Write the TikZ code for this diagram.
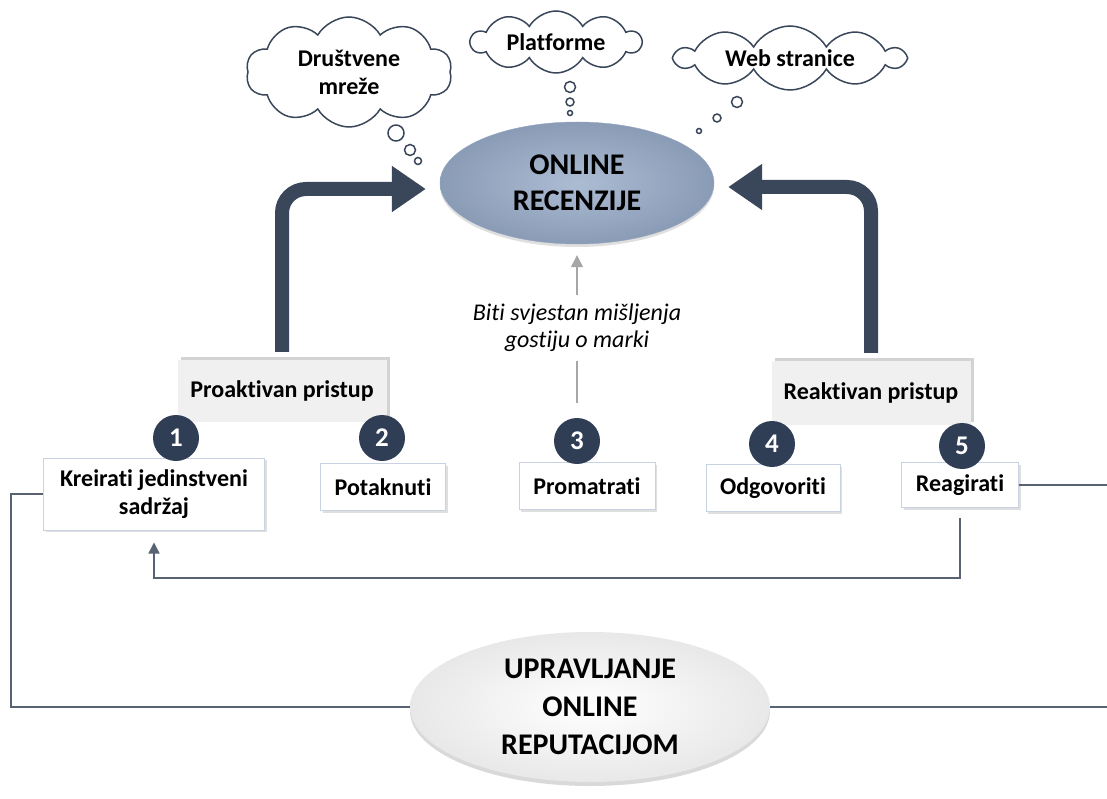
\documentclass[tikz,border=0pt]{standalone}
\usepackage{fontspec}
\setmainfont{Carlito}[Ligatures=NoCommon]
\usepackage{tikz}
\usetikzlibrary{calc}
\usetikzlibrary{positioning}
\usetikzlibrary{shapes}
\usetikzlibrary{shadows}
\usetikzlibrary{arrows.meta}
\definecolor{slate}{RGB}{58,70,89}
\definecolor{navy}{RGB}{47,61,85}
\definecolor{linegray}{RGB}{88,98,114}
\definecolor{boxline}{RGB}{200,210,226}
\definecolor{lightgray}{RGB}{166,166,166}
\tikzstyle{bigarrow}= [line width=14pt, draw=slate, rounded corners=24pt, -{Triangle[length=34pt,width=44pt]}]
\tikzstyle{thinline}= [line width=1.3pt, draw=linegray]
\tikzstyle{thinarrow}= [thinline, -{Triangle[length=11pt,width=11pt]}]
\tikzstyle{grayarrow}= [line width=1.3pt, draw=lightgray, -{Triangle[length=12pt,width=12pt]}]

\begin{document}
\begin{tikzpicture}[
		x=1pt,y=-1pt,
		font=\fontsize{24}{28}\selectfont\bfseries,
    thought/.style={
    cloud,cloud puffs=10,cloud puff arc=120,cloud ignores aspect,
    draw=slate,line width=1.5pt,fill=white,align=center,inner sep=2pt
    },
    bubble/.style={draw=slate,line width=1.5pt,fill=white},
    box/.style={
    draw=boxline,line width=1pt,fill=white,align=center,
    drop shadow={shadow xshift=2pt,shadow yshift=-2pt,opacity=0.25}
    },
    header/.style={
    fill=gray!12,align=center,
    drop shadow={shadow xshift=3pt,shadow yshift=3pt,opacity=0.35}
    },
    num/.style={circle,fill=navy,text=white,minimum size=46pt,inner sep=0pt,font=\fontsize{27}{30}\selectfont\bfseries}
	]
  \clip (0,0) rectangle (1107,799);

  % clouds
  \node[thought,minimum width=206pt,minimum height=110pt] (social) at (349,72) {Društvene\\mreže};
  \node[thought,minimum width=170pt,minimum height=62pt] (platf) at (556,42) {Platforme};
  \node[thought,minimum width=228pt,minimum height=64pt] (web) at (790,58) {Web stranice};
  \draw[bubble] (396,133) circle (8);
  \draw[bubble] (410,150) circle (5.5);
  \draw[bubble] (418,161) circle (3.5);
  \draw[bubble] (570,87) circle (5.5);
  \draw[bubble] (570,102) circle (4);
  \draw[bubble] (570,113) circle (2.5);
  \draw[bubble] (737,102) circle (5.5);
  \draw[bubble] (717,118) circle (4);
  \draw[bubble] (699,131) circle (2.5);

  % main ellipses
  \node[ellipse,minimum width=274pt,minimum height=122pt,inner color={rgb,255:red,172;green,188;blue,211},outer color={rgb,255:red,138;green,155;blue,182},draw={rgb,255:red,150;green,166;blue,192},align=center,font=\fontsize{30}{36}\selectfont\bfseries,drop shadow={shadow xshift=0pt,shadow yshift=-3pt,opacity=0.25}] (review) at (577,183) {ONLINE\\RECENZIJE};
  \node[ellipse,minimum width=360pt,minimum height=150pt,inner color=white,outer color=gray!18,align=center,font=\fontsize{30}{38}\selectfont\bfseries,drop shadow={shadow xshift=0pt,shadow yshift=-4pt,opacity=0.3}] (orm) at (590,707) {UPRAVLJANJE\\ONLINE\\REPUTACIJOM};

  % approaches
  \node[header,minimum width=209pt,minimum height=62pt] (proact) at (282,391) {Proaktivan pristup};
  \node[header,minimum width=199pt,minimum height=64pt] (react) at (871,393) {Reaktivan pristup};
  \draw[bigarrow,shorten <=8pt] (proact.north) |- ($(review.west)+(-14,6)$);
  \draw[bigarrow,shorten <=8pt] (react.north) |- ($(review.east)+(14,4)$);

  % steps
  \node[box,minimum width=221pt,minimum height=72pt] (create) at (154,494) {Kreirati jedinstveni\\sadržaj};
  \node[box,minimum width=125pt,minimum height=47pt] (urge) at (383,487) {Potaknuti};
  \node[box,minimum width=136pt,minimum height=47pt] (watch) at (587,486) {Promatrati};
  \node[box,minimum width=134pt,minimum height=47pt] (answer) at (773,488) {Odgovoriti};
  \node[box,minimum width=117pt,minimum height=45pt] (act) at (960,485) {Reagirati};
  \node[num] (n1) at (176,438) {1};
  \node[num] (n2) at (382,438) {2};
  \node[num] (n3) at (577,441) {3};
  \node[num] (n4) at (772,444) {4};
  \node[num] (n5) at (962,446) {5};

  % observe
  \coordinate (obs) at (577,403);
  \draw[grayarrow,shorten >=11pt] (obs) -- (review.south);
  \node[fill=white,inner sep=9pt,align=center,font=\fontsize{24}{27}\selectfont\itshape] (aware) at (577,328) {Biti svjestan mišljenja\\gostiju o marki};

  % loops
  \coordinate (fb) at (154,578);
  \draw[thinarrow,shorten <=10pt,shorten >=12pt] (act.south) |- (fb) -- (create.south);
  \draw[thinline] (create.west) -- ++(-32,0) |- (orm.west);
  \draw[thinline] (act.east) -- ++(110,0) |- (orm.east);

\end{tikzpicture}
\end{document}
